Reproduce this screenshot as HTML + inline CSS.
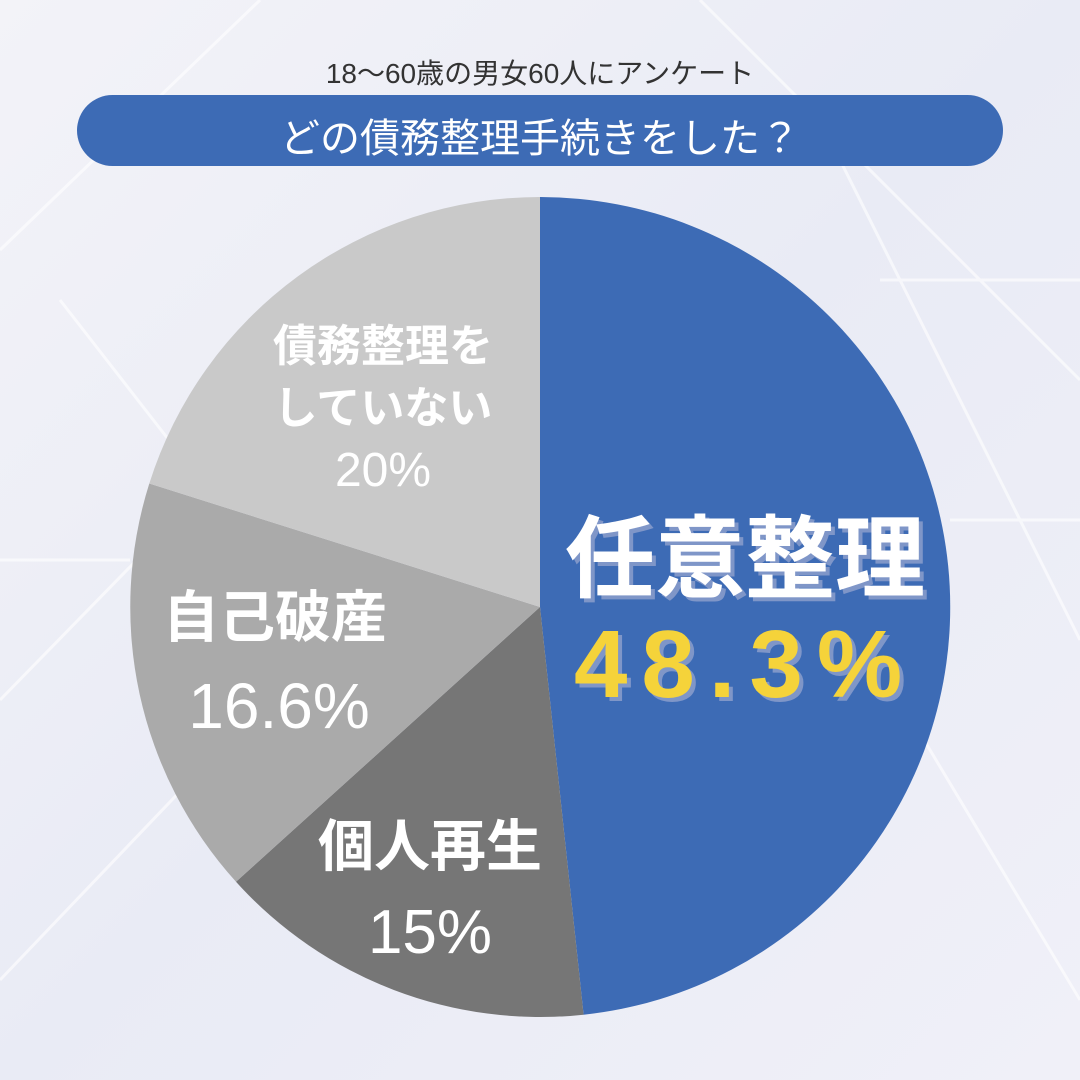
<!DOCTYPE html>
<html><head><meta charset="utf-8"><style>
html,body{margin:0;padding:0;}
body{width:1080px;height:1080px;position:relative;overflow:hidden;background:linear-gradient(135deg,#f3f3f8 0%,#e9ebf5 50%,#f0f0f8 100%);font-family:"Liberation Sans","Noto Sans CJK JP",sans-serif;}
.t{position:absolute;white-space:nowrap;font-weight:bold;}
</style></head><body>
<svg width="1080" height="1080" style="position:absolute;left:0;top:0">
<g stroke="#ffffff" stroke-width="3" opacity="0.6" fill="none">
<path d="M0 250 L260 0 M0 700 L420 270 M700 0 L1080 380 M820 120 L1080 640 M0 980 L210 760 M900 700 L1080 1000 M60 300 L200 480 M880 280 L1080 280 M0 560 L130 560 M950 520 L1080 520"/>
</g>
<path d="M540 607 L540 197 A410 410 0 0 1 583.6 1014.7 Z" fill="#3d6bb5"/>
<path d="M540 607 L583.6 1014.7 A410 410 0 0 1 236 881.8 Z" fill="#767676"/>
<path d="M540 607 L236 881.8 A410 410 0 0 1 149.3 483.5 Z" fill="#aaaaaa"/>
<path d="M540 607 L149.3 483.5 A410 410 0 0 1 540 197 Z" fill="#c9c9c9"/>
<rect x="77" y="95" width="926" height="71" rx="35.5" fill="#3d6bb5"/>
</svg>
<div class="t" style="left:0;width:1080px;text-align:center;top:52px;font-size:28px;font-weight:normal;color:#333">18〜60歳の男女60人にアンケート</div>
<div class="t" style="left:0;width:1080px;text-align:center;top:106px;font-size:40px;font-weight:normal;color:#fff">どの債務整理手続きをした？</div>
<div class="t" style="left:565px;top:486px;font-size:90px;color:#fff;text-shadow:4px 4px 0 #7f96c8">任意整理</div>
<div class="t" style="left:574px;top:610px;font-size:96px;color:#f5d33a;letter-spacing:14px;text-shadow:4px 4px 0 #7f96c8">48.3%</div>
<div class="t" style="left:248px;top:316px;width:270px;text-align:center;font-size:44px;line-height:62px;color:#fff">債務整理を<br>していない<br><span style="font-weight:normal;font-size:48px">20%</span></div>
<div class="t" style="left:150px;top:574px;width:250px;text-align:center;font-size:56px;line-height:88px;color:#fff">自己破産<br><span style="font-weight:normal;font-size:64px;position:relative;left:4px">16.6%</span></div>
<div class="t" style="left:310px;top:804px;width:240px;text-align:center;font-size:56px;line-height:86px;color:#fff">個人再生<br><span style="font-weight:normal;font-size:62px">15%</span></div>
</body></html>
